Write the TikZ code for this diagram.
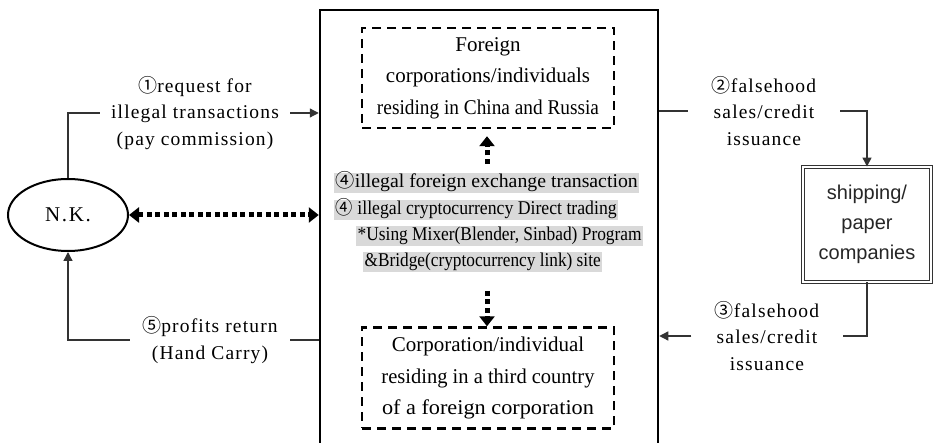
\documentclass[tikz,border=0pt]{standalone}
\usepackage{fontspec}
\setmainfont{Liberation Serif}
\newfontfamily\circf{Noto Sans CJK SC}
\newfontfamily\shipf{Liberation Sans}
\usetikzlibrary{arrows.meta,shapes.geometric}
\definecolor{hl}{HTML}{D9D9D9}
\definecolor{ln}{HTML}{333333}
\newcommand\cn[1]{{\circf\fontsize{19}{19}\selectfont #1}}
\newcommand\fitw[2]{\resizebox{#1}{\height}{#2}}
\begin{document}
\begin{tikzpicture}[x=1pt,y=-1pt,
  conn/.style={draw=ln,line width=1.3pt},
  arr/.style={-{Triangle[length=9pt,width=9pt]}},
  dbox/.style={draw,line width=2.4pt,dash pattern=on 9pt off 6pt,minimum width=252pt,inner sep=0pt,align=center,font=\fontsize{21}{31.5}\selectfont},
  lbl/.style={align=center,inner xsep=0pt,inner ysep=2pt,font=\fontsize{19.5}{26.5}\selectfont\addfontfeatures{LetterSpace=6}},
  hlt/.style={fill=hl,inner xsep=1.5pt,inner ysep=1pt,text height=14pt,text depth=4.5pt,anchor=west,font=\fontsize{19.5}{19.5}\selectfont},
  dots/.style={line width=5pt,dash pattern=on 5pt off 3.5pt},
  dotarr/.style={-{Triangle[length=10pt,width=15pt]}},
]
\useasboundingbox (0,0) rectangle (935,443);
% main container
\node[draw,line width=2.5pt,minimum width=338pt,minimum height=470pt,inner sep=0pt,anchor=north] (main) at (489,9) {};
% dashed boxes
\node[dbox,minimum height=100pt] (fc) at (488,78) {Foreign\\corporations/individuals\\\fitw{222pt}{residing in China and Russia}};
\node[dbox,minimum height=101pt] (tc) at (488,378) {Corporation/individual\\\fitw{213pt}{residing in a third country}\\\fitw{212pt}{of a foreign corporation}};
% N.K.
\node[ellipse,draw,line width=2pt,minimum width=120pt,minimum height=72pt,inner sep=0pt,font=\fontsize{21}{21}\selectfont\addfontfeatures{LetterSpace=8}] (nk) at (68,215) {N.K.};
% shipping
\node[draw=ln,double,double distance=1.6pt,line width=0.9pt,minimum width=128pt,minimum height=115pt,inner sep=0pt,align=center,font=\shipf\fontsize{20}{30}\selectfont,text=black!85] (ship) at (867,224.5) {shipping/\\paper\\companies};
% highlighted lines
\node[hlt] (h1) at (334,183) {\fitw{302pt}{\cn{④}illegal foreign exchange transaction}};
\node[hlt] (h2) at (334,210) {\fitw{281pt}{\cn{④} illegal cryptocurrency Direct trading}};
\node[hlt] (h3) at (356,236) {\fitw{284pt}{*Using Mixer(Blender, Sinbad) Program}};
\node[hlt] (h4) at (363,262) {\fitw{236pt}{\&Bridge(cryptocurrency link) site}};
% labels
\node[lbl,minimum width=190pt] (l1) at (195,113) {\cn{①}request for\\illegal transactions\\(pay commission)};
\node[lbl,minimum width=152pt] (l2) at (764,111) {\cn{②}falsehood\\sales/credit\\issuance};
\node[lbl,minimum width=151pt] (l3) at (767,336) {\cn{③}falsehood\\sales/credit\\issuance};
\node[lbl,minimum width=160pt] (l5) at (210,340) {\cn{⑤}profits return\\(Hand Carry)};
% connectors
\draw[conn] (nk.north) |- (l1.west);
\draw[conn,arr] (l1.east) -- (main.west |- l1.east);
\draw[conn] (main.east |- l2.west) -- (l2.west);
\draw[conn,arr] (l2.east) -| (ship.north);
\draw[conn] (ship.south) |- (l3.east);
\draw[conn,arr] (l3.west) -- (main.east |- l3.west);
\draw[conn] (main.west |- l5.east) -- (l5.east);
\draw[conn,arr] (l5.west) -| (nk.south);
% dotted arrows
\draw[dots,{Triangle[length=10pt,width=15pt]}-{Triangle[length=10pt,width=15pt]}] (nk.east) -- (main.west |- nk.east);
\coordinate (u1) at (487,164);
\draw[dots,dotarr,shorten >=7pt] (u1) -- (fc.south -| u1);
\coordinate (d1) at (487,291);
\draw[dots,dotarr] (d1) -- (tc.north -| d1);
\end{tikzpicture}
\end{document}
